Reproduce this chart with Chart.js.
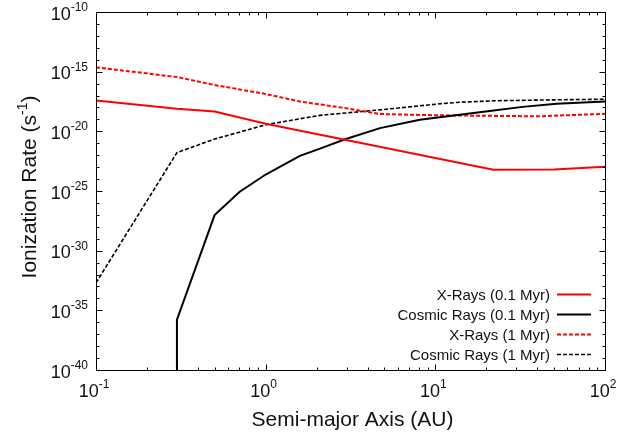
<!DOCTYPE html>
<html>
<head>
<meta charset="utf-8">
<script src="https://cdn.jsdelivr.net/npm/chart.js@4.4.1/dist/chart.umd.min.js"></script>
<style>
  body { margin: 0; background: #fff; }
  #wrap { width: 640px; height: 436px; }
</style>
</head>
<body>
<div id="wrap"><canvas id="chart" width="640" height="436"></canvas></div>
<script>
// ── Data (stored as log10 of the rate) ──
const xraysYoungX   = [0.1, 0.3, 0.5, 1, 22, 50, 100];
const xraysYoungLog = [-17.41, -18.11, -18.34, -19.37, -23.21, -23.2, -22.96];

const cosmicYoungX   = [0.3, 0.3, 0.5, 0.7, 1, 1.59, 2.09, 2.94, 4.72, 8.1, 13.9, 20.9, 32.7, 51.8, 100];
const cosmicYoungLog = [-50, -35.78, -27.02, -25.08, -23.62, -22.05, -21.45, -20.66, -19.73, -19.03, -18.61, -18.3, -17.95, -17.68, -17.5];

const xraysOldX   = [0.1, 0.3, 0.5, 1, 1.59, 2.94, 4.72, 10, 20, 41, 100];
const xraysOldLog = [-14.64, -15.45, -16.12, -16.87, -17.5, -18.05, -18.55, -18.65, -18.7, -18.74, -18.53];

const cosmicOldX   = [0.1, 0.3, 0.5, 0.7, 1, 1.59, 2.09, 4.72, 10.65, 13.9, 22, 50, 100];
const cosmicOldLog = [-32.7, -21.78, -20.65, -20.07, -19.45, -18.95, -18.66, -18.2, -17.69, -17.56, -17.44, -17.36, -17.31];

const seriesNames = ["X-Rays (0.1 Myr)", "Cosmic Rays (0.1 Myr)", "X-Rays (1 Myr)", "Cosmic Rays (1 Myr)"];

// axis ticks (decade exponents)
const xDecades   = [-1, 0, 1, 2];
const yExponents = [-40, -39, -38, -37, -36, -35, -34, -33, -32, -31, -30, -29, -28, -27, -26,
                    -25, -24, -23, -22, -21, -20, -19, -18, -17, -16, -15, -14, -13, -12, -11, -10];
const yLabelExps = [-40, -35, -30, -25, -20, -15, -10];

const FONT = "'Liberation Sans', Arial, sans-serif";

function toPoints(xs, logs) {
  return xs.map((x, i) => ({ x: x, y: Math.pow(10, logs[i]) }));
}

// draw "10" with a raised exponent
function drawPow(ctx, exp, x, y, align, size, supSize, rise) {
  ctx.font = size + "px " + FONT;
  const w1 = ctx.measureText("10").width;
  ctx.font = supSize + "px " + FONT;
  const w2 = ctx.measureText(exp).width;
  let left = x;
  if (align === "right") left = x - w1 - w2;
  if (align === "center") left = x - (w1 + w2) / 2;
  ctx.textAlign = "left";
  ctx.textBaseline = "alphabetic";
  ctx.font = size + "px " + FONT;
  ctx.fillText("10", left, y);
  ctx.font = supSize + "px " + FONT;
  ctx.fillText(exp, left + w1, y - rise);
}

// ── Frame, ticks, labels, titles, legend ───────────────────
const decorPlugin = {
  id: "decor",
  afterDatasetsDraw(chart) {
    const ctx = chart.ctx;
    const a = chart.chartArea;
    const xs = chart.scales.x, ys = chart.scales.y;
    ctx.save();
    ctx.strokeStyle = "#000";
    ctx.fillStyle = "#000";
    ctx.lineWidth = 1;

    const L = Math.round(a.left) + 0.5, R = Math.round(a.right) + 0.5;
    const T = Math.round(a.top) + 0.5, B = Math.round(a.bottom) + 0.5;

    // tick marks (inward, mirrored)
    ctx.beginPath();
    xDecades.forEach(d => {
      for (let k = 1; k <= 9; k++) {
        const v = k * Math.pow(10, d);
        if (v > xs.max * 1.0001) break;
        const px = Math.round(xs.getPixelForValue(v)) + 0.5;
        const len = k === 1 ? 6 : 3;
        ctx.moveTo(px, B); ctx.lineTo(px, B - len);
        ctx.moveTo(px, T); ctx.lineTo(px, T + len);
      }
    });
    yExponents.forEach(e => {
      const py = Math.round(ys.getPixelForValue(Math.pow(10, e))) + 0.5;
      const len = e % 5 === 0 ? 6 : 3;
      ctx.moveTo(L, py); ctx.lineTo(L + len, py);
      ctx.moveTo(R, py); ctx.lineTo(R - len, py);
    });
    ctx.stroke();

    // frame
    ctx.strokeRect(L, T, R - L, B - T);

    // tick labels
    ctx.fillStyle = "#111";
    yLabelExps.forEach(e => {
      const py = ys.getPixelForValue(Math.pow(10, e));
      drawPow(ctx, String(e), 88, py + 7.5, "right", 18, 12, 8.5);
    });
    xDecades.forEach(d => {
      const px = xs.getPixelForValue(Math.pow(10, d));
      drawPow(ctx, String(d), px - 2, a.bottom + 27, "center", 18, 12, 9);
    });

    // axis titles
    ctx.font = "21px " + FONT;
    ctx.textAlign = "center";
    ctx.textBaseline = "alphabetic";
    ctx.fillText("Semi-major Axis (AU)", (a.left + a.right) / 2 + 2, 426);

    ctx.save();
    ctx.translate(36, 187);
    ctx.rotate(-Math.PI / 2);
    const p1 = "Ionization Rate (s", p2 = "-1", p3 = ")";
    ctx.font = "21px " + FONT;
    const w1 = ctx.measureText(p1).width, w3 = ctx.measureText(p3).width;
    ctx.font = "14px " + FONT;
    const w2 = ctx.measureText(p2).width;
    let sx = -(w1 + w2 + w3) / 2;
    ctx.textAlign = "left";
    ctx.font = "21px " + FONT;
    ctx.fillText(p1, sx, 0);
    ctx.font = "14px " + FONT;
    ctx.fillText(p2, sx + w1, -9);
    ctx.font = "21px " + FONT;
    ctx.fillText(p3, sx + w1 + w2, 0);
    ctx.restore();

    // legend (text right-aligned, sample on the right)
    ctx.font = "15px " + FONT;
    ctx.textAlign = "right";
    ctx.textBaseline = "middle";
    chart.data.datasets.forEach((ds, i) => {
      const y = 294.5 + i * 20;
      ctx.fillStyle = "#111";
      ctx.fillText(ds.label, 550, y + 1);
      ctx.beginPath();
      ctx.strokeStyle = ds.borderColor;
      ctx.lineWidth = ds.borderWidth;
      ctx.setLineDash(ds.borderDash || []);
      ctx.moveTo(557, y); ctx.lineTo(591, y);
      ctx.stroke();
      ctx.setLineDash([]);
    });
    ctx.restore();
  }
};

const ctx = document.getElementById("chart").getContext("2d");

new Chart(ctx, {
  type: "line",
  data: {
    datasets: [
      {
        label: seriesNames[0],
        data: toPoints(xraysYoungX, xraysYoungLog),
        borderColor: "#ff0000",
        borderWidth: 2
      },
      {
        label: seriesNames[1],
        data: toPoints(cosmicYoungX, cosmicYoungLog),
        borderColor: "#000000",
        borderWidth: 2
      },
      {
        label: seriesNames[2],
        data: toPoints(xraysOldX, xraysOldLog),
        borderColor: "#ff0000",
        borderWidth: 2,
        borderDash: [4, 2]
      },
      {
        label: seriesNames[3],
        data: toPoints(cosmicOldX, cosmicOldLog),
        borderColor: "#000000",
        borderWidth: 1.6,
        borderDash: [4, 2]
      }
    ]
  },
  options: {
    responsive: false,
    animation: false,
    layout: { padding: { left: 96, right: 35, top: 12, bottom: 66 } },
    elements: {
      point: { radius: 0 },
      line: { tension: 0, fill: false }
    },
    plugins: {
      legend: { display: false },
      tooltip: { enabled: false }
    },
    scales: {
      x: { type: "logarithmic", min: 0.1, max: 100, display: false },
      y: { type: "logarithmic", min: 1e-40, max: 1e-10, display: false }
    }
  },
  plugins: [decorPlugin]
});
</script>
</body>
</html>
